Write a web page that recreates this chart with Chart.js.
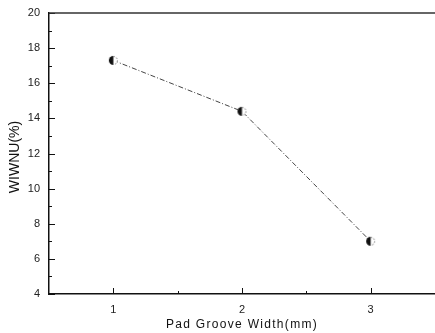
<!DOCTYPE html>
<html>
<head>
<meta charset="utf-8">
<script src="https://cdn.jsdelivr.net/npm/chart.js@4"></script>
<style>
  html, body { margin: 0; padding: 0; background: #fff; }
  #wrap { width: 435px; height: 333px; }
</style>
</head>
<body>
<div id="wrap"><canvas id="wiwnuChart" width="435" height="333"></canvas></div>
<script>
// data
const grooveWidth = [1, 2, 3];
const wiwnu = [17.3, 14.4, 7.0];
const xTickValues = [1, 2, 3];
const xMinorTicks = [1.5, 2.5];
const yTickValues = [4, 6, 8, 10, 12, 14, 16, 18, 20];
const yMinorTicks = [5, 7, 9, 11, 13, 15, 17, 19];
const xTitle = 'Pad Groove Width(mm)';
const yTitle = 'WIWNU(%)';

// half filled circle marker
function makeMarker(r) {
  const c = document.createElement('canvas');
  c.width = c.height = r * 2 + 2;
  const g = c.getContext('2d');
  const cx = r + 1, cy = r + 1;
  g.fillStyle = '#fff';
  g.beginPath(); g.arc(cx, cy, r, 0, Math.PI * 2); g.fill();
  g.fillStyle = '#111';
  g.beginPath(); g.arc(cx, cy, r, Math.PI / 2, Math.PI * 1.5); g.closePath(); g.fill();
  g.strokeStyle = '#777';
  g.lineWidth = 1;
  g.setLineDash([1.5, 1.5]);
  g.beginPath(); g.arc(cx, cy, r - 0.5, -Math.PI / 2, Math.PI / 2); g.stroke();
  return c;
}

// inside ticks + axis titles
const axisDecor = {
  id: 'axisDecor',
  afterDraw(chart) {
    const ctx = chart.ctx;
    const x = chart.scales.x, y = chart.scales.y;
    const a = chart.chartArea;
    ctx.save();
    ctx.strokeStyle = '#111';
    ctx.lineWidth = 1;
    ctx.beginPath();
    yTickValues.forEach(v => { const p = Math.round(y.getPixelForValue(v)) + 0.5; ctx.moveTo(a.left, p); ctx.lineTo(a.left + 6, p); });
    yMinorTicks.forEach(v => { const p = Math.round(y.getPixelForValue(v)) + 0.5; ctx.moveTo(a.left, p); ctx.lineTo(a.left + 3, p); });
    xTickValues.forEach(v => { const p = Math.round(x.getPixelForValue(v)) + 0.5; ctx.moveTo(p, a.bottom); ctx.lineTo(p, a.bottom - 6); });
    xMinorTicks.forEach(v => { const p = Math.round(x.getPixelForValue(v)) + 0.5; ctx.moveTo(p, a.bottom); ctx.lineTo(p, a.bottom - 3); });
    ctx.stroke();
    // top frame line
    ctx.strokeStyle = '#333';
    ctx.lineWidth = 1.5;
    ctx.beginPath(); ctx.moveTo(a.left, a.top); ctx.lineTo(a.right, a.top); ctx.stroke();

    ctx.fillStyle = '#111';
    ctx.textAlign = 'center';
    ctx.textBaseline = 'middle';
    ctx.font = '12px "Liberation Sans", Arial, sans-serif';
    ctx.letterSpacing = '1.3px';
    ctx.fillText(xTitle, 242, 325);
    ctx.translate(15, 157);
    ctx.rotate(-Math.PI / 2);
    ctx.font = '14px "Liberation Sans", Arial, sans-serif';
    ctx.letterSpacing = '0px';
    ctx.fillText(yTitle, 0, 0);
    ctx.restore();
  }
};

function noPad(s) {
  s.paddingLeft = 0; s.paddingRight = 0; s.paddingTop = 0; s.paddingBottom = 0;
}

const ctx = document.getElementById('wiwnuChart').getContext('2d');
const wiwnuChart = new Chart(ctx, {
  type: 'scatter',
  data: {
    datasets: [{
      data: grooveWidth.map((g, i) => ({ x: g, y: wiwnu[i] })),
      showLine: true,
      borderColor: '#444',
      borderWidth: 1,
      borderDash: [5, 2, 1, 2],
      pointStyle: makeMarker(4.5),
      pointRadius: 5,
    }]
  },
  options: {
    responsive: false,
    animation: false,
    events: [],
    layout: { autoPadding: false, padding: { top: 13, right: 0, left: 0, bottom: 0 } },
    plugins: { legend: { display: false }, tooltip: { enabled: false } },
    scales: {
      x: {
        type: 'linear',
        min: 0.5, max: 3.5,
        afterBuildTicks: s => { s.ticks = xTickValues.map(v => ({ value: v })); },
        afterFit: s => { s.height = 39; noPad(s); },
        grid: { display: false, drawTicks: false },
        border: { display: true, color: '#111', width: 1.5 },
        ticks: { padding: 9, color: '#222', font: { family: '"Liberation Sans", Arial, sans-serif', size: 11 } }
      },
      y: {
        min: 4, max: 20,
        afterBuildTicks: s => { s.ticks = yTickValues.map(v => ({ value: v })); },
        afterFit: s => { s.width = 49; noPad(s); },
        grid: { display: false, drawTicks: false },
        border: { display: true, color: '#111', width: 1.5 },
        ticks: { padding: 9, color: '#222', font: { family: '"Liberation Sans", Arial, sans-serif', size: 11 } }
      }
    }
  },
  plugins: [axisDecor]
});
</script>
</body>
</html>
